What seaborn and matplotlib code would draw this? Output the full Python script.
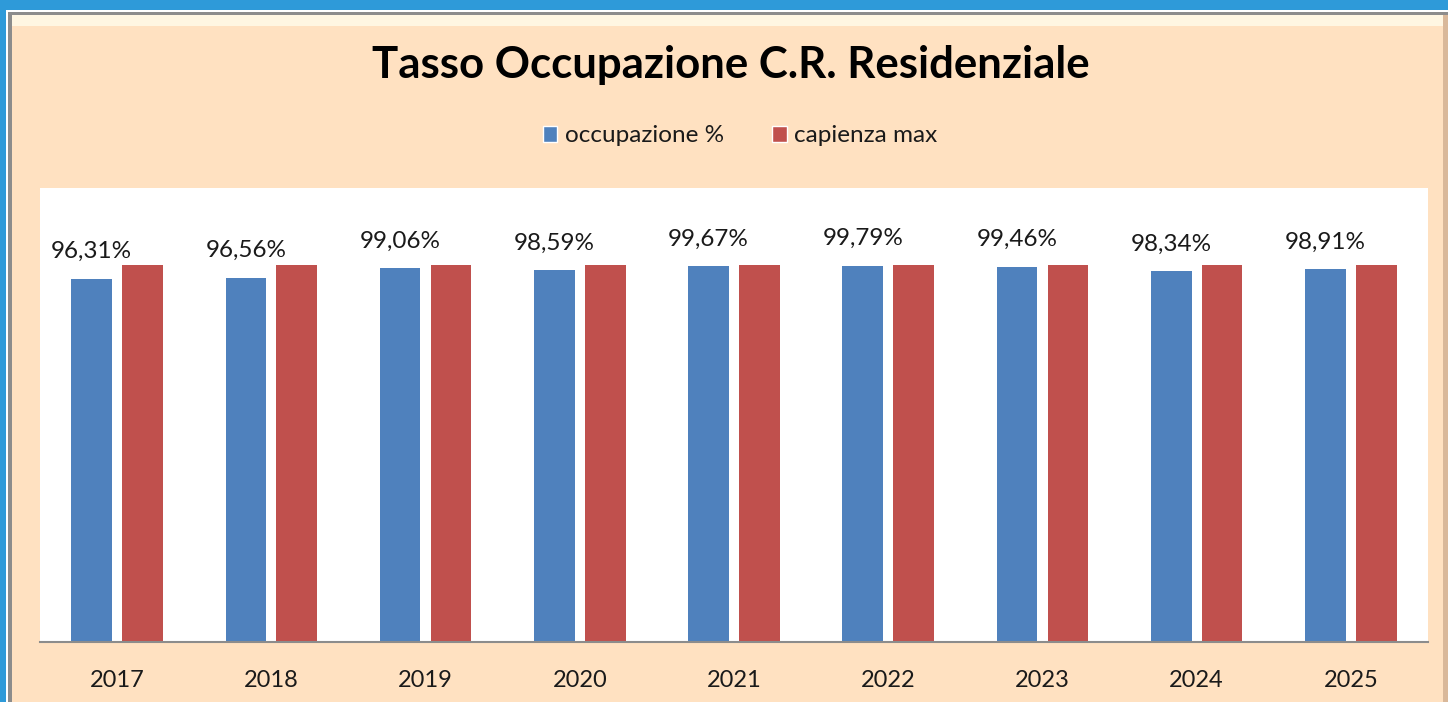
import matplotlib
matplotlib.use("Agg")
import matplotlib.pyplot as plt
from matplotlib.patches import Rectangle
import pandas as pd
import seaborn as sns

# dati
anni = ["2017", "2018", "2019", "2020", "2021", "2022", "2023", "2024", "2025"]
occupazione = [96.31, 96.56, 99.06, 98.59, 99.67, 99.79, 99.46, 98.34, 98.91]
capienza = [100, 100, 100, 100, 100, 100, 100, 100, 100]
serie = ["occupazione %", "capienza max"]
colori = ["#4F81BD", "#C0504D"]

df = pd.DataFrame({
    "anno": anni * 2,
    "valore": occupazione + capienza,
    "serie": [serie[0]] * len(anni) + [serie[1]] * len(anni),
})

sns.set_style("white")
plt.rcParams["font.family"] = ["Lato", "DejaVu Sans"]

W, H = 1448, 702
fig = plt.figure(figsize=(W / 100, H / 100), dpi=100, facecolor="#2E9AD9")


def px_rect(x0, y0, x1, y1, color, z):
    # rettangolo in pixel (origine in alto a sinistra)
    fig.patches.append(Rectangle((x0 / W, 1 - y1 / H), (x1 - x0) / W, (y1 - y0) / H,
                                 transform=fig.transFigure, facecolor=color,
                                 edgecolor="none", zorder=z))


# cornice
px_rect(6, 10, W, H, "white", -5)
px_rect(8, 12, W, H, "#8C8C8C", -4)
px_rect(12, 15, W - 5, H, "#FFE1C1", -3)
px_rect(12, 15, W - 5, 26, "#FFF6E2", -2)
px_rect(W - 5, 15, W, H, "#D9B89A", -2)

ax = fig.add_axes([40 / W, (H - 642) / H, (1428 - 40) / W, (642 - 188) / H])
ax.set_zorder(5)
ax.set_facecolor("white")

sns.barplot(data=df, x="anno", y="valore", hue="serie", palette=colori,
            width=0.66, gap=0.2, saturation=1, linewidth=0, edgecolor="none",
            ax=ax, legend=False)

ax.set_ylim(0, 120.4)
ax.set_yticks([])
ax.set_xlabel("")
ax.set_ylabel("")
for s in ["top", "left", "right"]:
    ax.spines[s].set_visible(False)
ax.spines["bottom"].set_color("#8C8C8C")
ax.spines["bottom"].set_linewidth(1.5)
ax.tick_params(axis="x", length=0, pad=20, labelsize=17, labelcolor="#1A1A1A")

etichette = [f"{v:.2f}%".replace(".", ",") for v in occupazione]
ax.bar_label(ax.containers[0], labels=etichette, padding=12, fontsize=17.5, color="#1A1A1A")

fig.text(731 / W, 1 - 65 / H, "Tasso Occupazione C.R. Residenziale",
         ha="center", va="center", fontsize=31.5, fontweight="bold", color="black")

handles = [Rectangle((0, 0), 1, 1, facecolor=c) for c in colori]
fig.legend(handles, serie, loc="center", bbox_to_anchor=(740 / W, 1 - 136 / H),
           ncol=2, frameon=False, fontsize=17.5, handlelength=0.6, handleheight=0.6,
           handletextpad=0.3, columnspacing=2.0, labelcolor="#1A1A1A")

fig.savefig("out.png", dpi=100, facecolor=fig.get_facecolor())
